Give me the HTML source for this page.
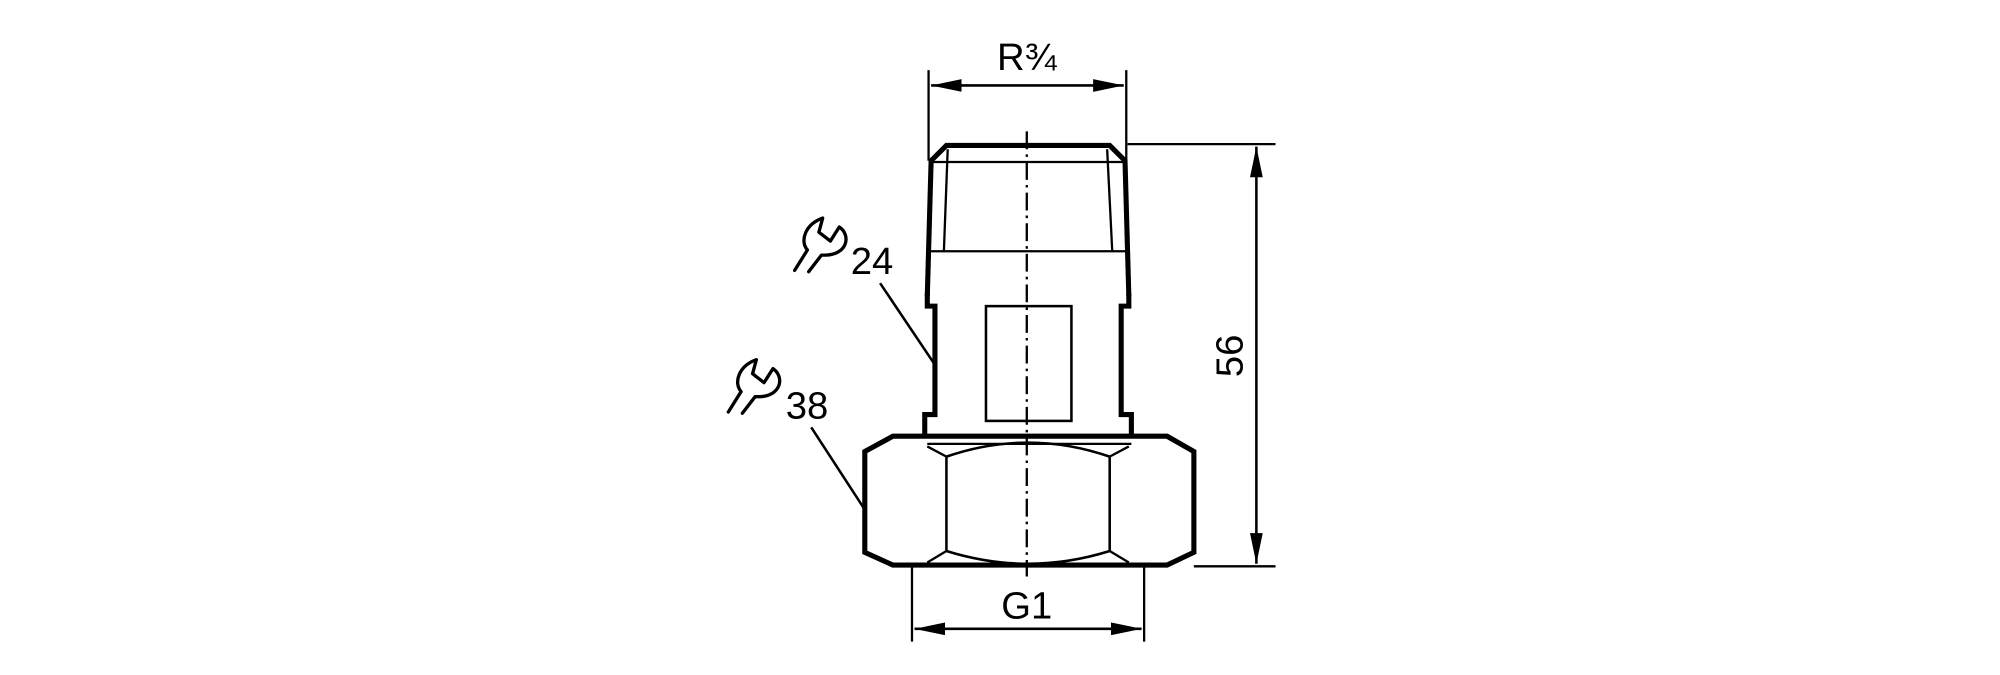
<!DOCTYPE html>
<html><head><meta charset="utf-8"><style>
html,body{margin:0;padding:0;background:#fff;}
svg{display:block;}
text{font-family:"Liberation Sans",sans-serif;fill:#000;}
</style></head><body>
<svg width="2000" height="675" viewBox="0 0 1568 529.2" xmlns="http://www.w3.org/2000/svg">
<defs>
<marker id="a" viewBox="0 0 24 10" refX="24" refY="5" markerWidth="24" markerHeight="10" markerUnits="userSpaceOnUse" orient="auto-start-reverse">
<path d="M0,0 L24,5 L0,10 Z" fill="#000"/></marker>
<g id="w" fill="none" stroke="#000" stroke-width="2.6" stroke-linejoin="round" stroke-linecap="round">
<path d="M1,43 L11,27 C5,20 9,7 23,2 L20,13 L29,20 L36,9 C45,15 43,30 26,31 L22,31 L12,44"/>
</g>
</defs>
<g fill="none" stroke="#000" stroke-linecap="butt">
<line x1="728" y1="55" x2="728" y2="126" stroke-width="1.8"/>
<line x1="883" y1="55" x2="883" y2="126" stroke-width="1.8"/>
<line x1="730" y1="67" x2="881" y2="67" stroke-width="2" marker-start="url(#a)" marker-end="url(#a)"/>
<path d="M727,232 L730,126 L742,114 L870,114 L882,126 L885,232" stroke-width="4" stroke-linejoin="miter"/>
<line x1="730" y1="127" x2="882" y2="127" stroke-width="1.8"/>
<line x1="743" y1="117" x2="740" y2="197" stroke-width="1.8"/>
<line x1="868" y1="117" x2="872" y2="197" stroke-width="1.8"/>
<line x1="727" y1="197" x2="885" y2="197" stroke-width="1.8"/>
<path d="M727,230 L727,240 L733,240 L733,325 L725,325 L725,342" stroke-width="4"/>
<path d="M885,230 L885,240 L879,240 L879,325 L887,325 L887,342" stroke-width="4"/>
<rect x="773" y="240" width="67" height="90" stroke-width="2"/>
<path d="M700,342 L915,342 L936,354 L936,433 L915,443 L700,443 L678,433 L678,354 Z" stroke-width="4" stroke-linejoin="miter"/>
<line x1="727" y1="348" x2="887" y2="348" stroke-width="1.8"/>
<line x1="742" y1="358" x2="742" y2="432" stroke-width="2"/>
<line x1="870" y1="358" x2="870" y2="432" stroke-width="2"/>
<path d="M742,358 Q806,336 870,358" stroke-width="2"/>
<path d="M742,432 Q806,452 870,432" stroke-width="2"/>
<line x1="727" y1="350" x2="742" y2="358" stroke-width="1.8"/>
<line x1="885" y1="350" x2="870" y2="358" stroke-width="1.8"/>
<line x1="727" y1="441" x2="742" y2="432" stroke-width="1.8"/>
<line x1="885" y1="441" x2="870" y2="432" stroke-width="1.8"/>
<line x1="805" y1="103" x2="805" y2="452" stroke-width="1.8" stroke-dasharray="14,4,2,4"/>
<line x1="884" y1="113" x2="1000" y2="113" stroke-width="1.8"/>
<line x1="936" y1="444" x2="1000" y2="444" stroke-width="1.8"/>
<line x1="985" y1="115" x2="985" y2="442" stroke-width="2" marker-start="url(#a)" marker-end="url(#a)"/>
<line x1="715" y1="444" x2="715" y2="503" stroke-width="1.8"/>
<line x1="897" y1="444" x2="897" y2="503" stroke-width="1.8"/>
<line x1="717" y1="493" x2="895" y2="493" stroke-width="2" marker-start="url(#a)" marker-end="url(#a)"/>
<line x1="690" y1="222" x2="733" y2="286" stroke-width="2"/>
<line x1="636" y1="335" x2="677" y2="398" stroke-width="2"/>
</g>
<use href="#w" x="622" y="169"/>
<use href="#w" x="570" y="280"/>
<text x="805" y="55" font-size="30" text-anchor="middle">R¾</text>
<text x="805" y="485" font-size="30" text-anchor="middle">G1</text>
<text x="667" y="215" font-size="30">24</text>
<text x="616" y="328" font-size="30">38</text>
<text transform="translate(974,279) rotate(-90)" font-size="30" text-anchor="middle">56</text>
</svg>
</body></html>
